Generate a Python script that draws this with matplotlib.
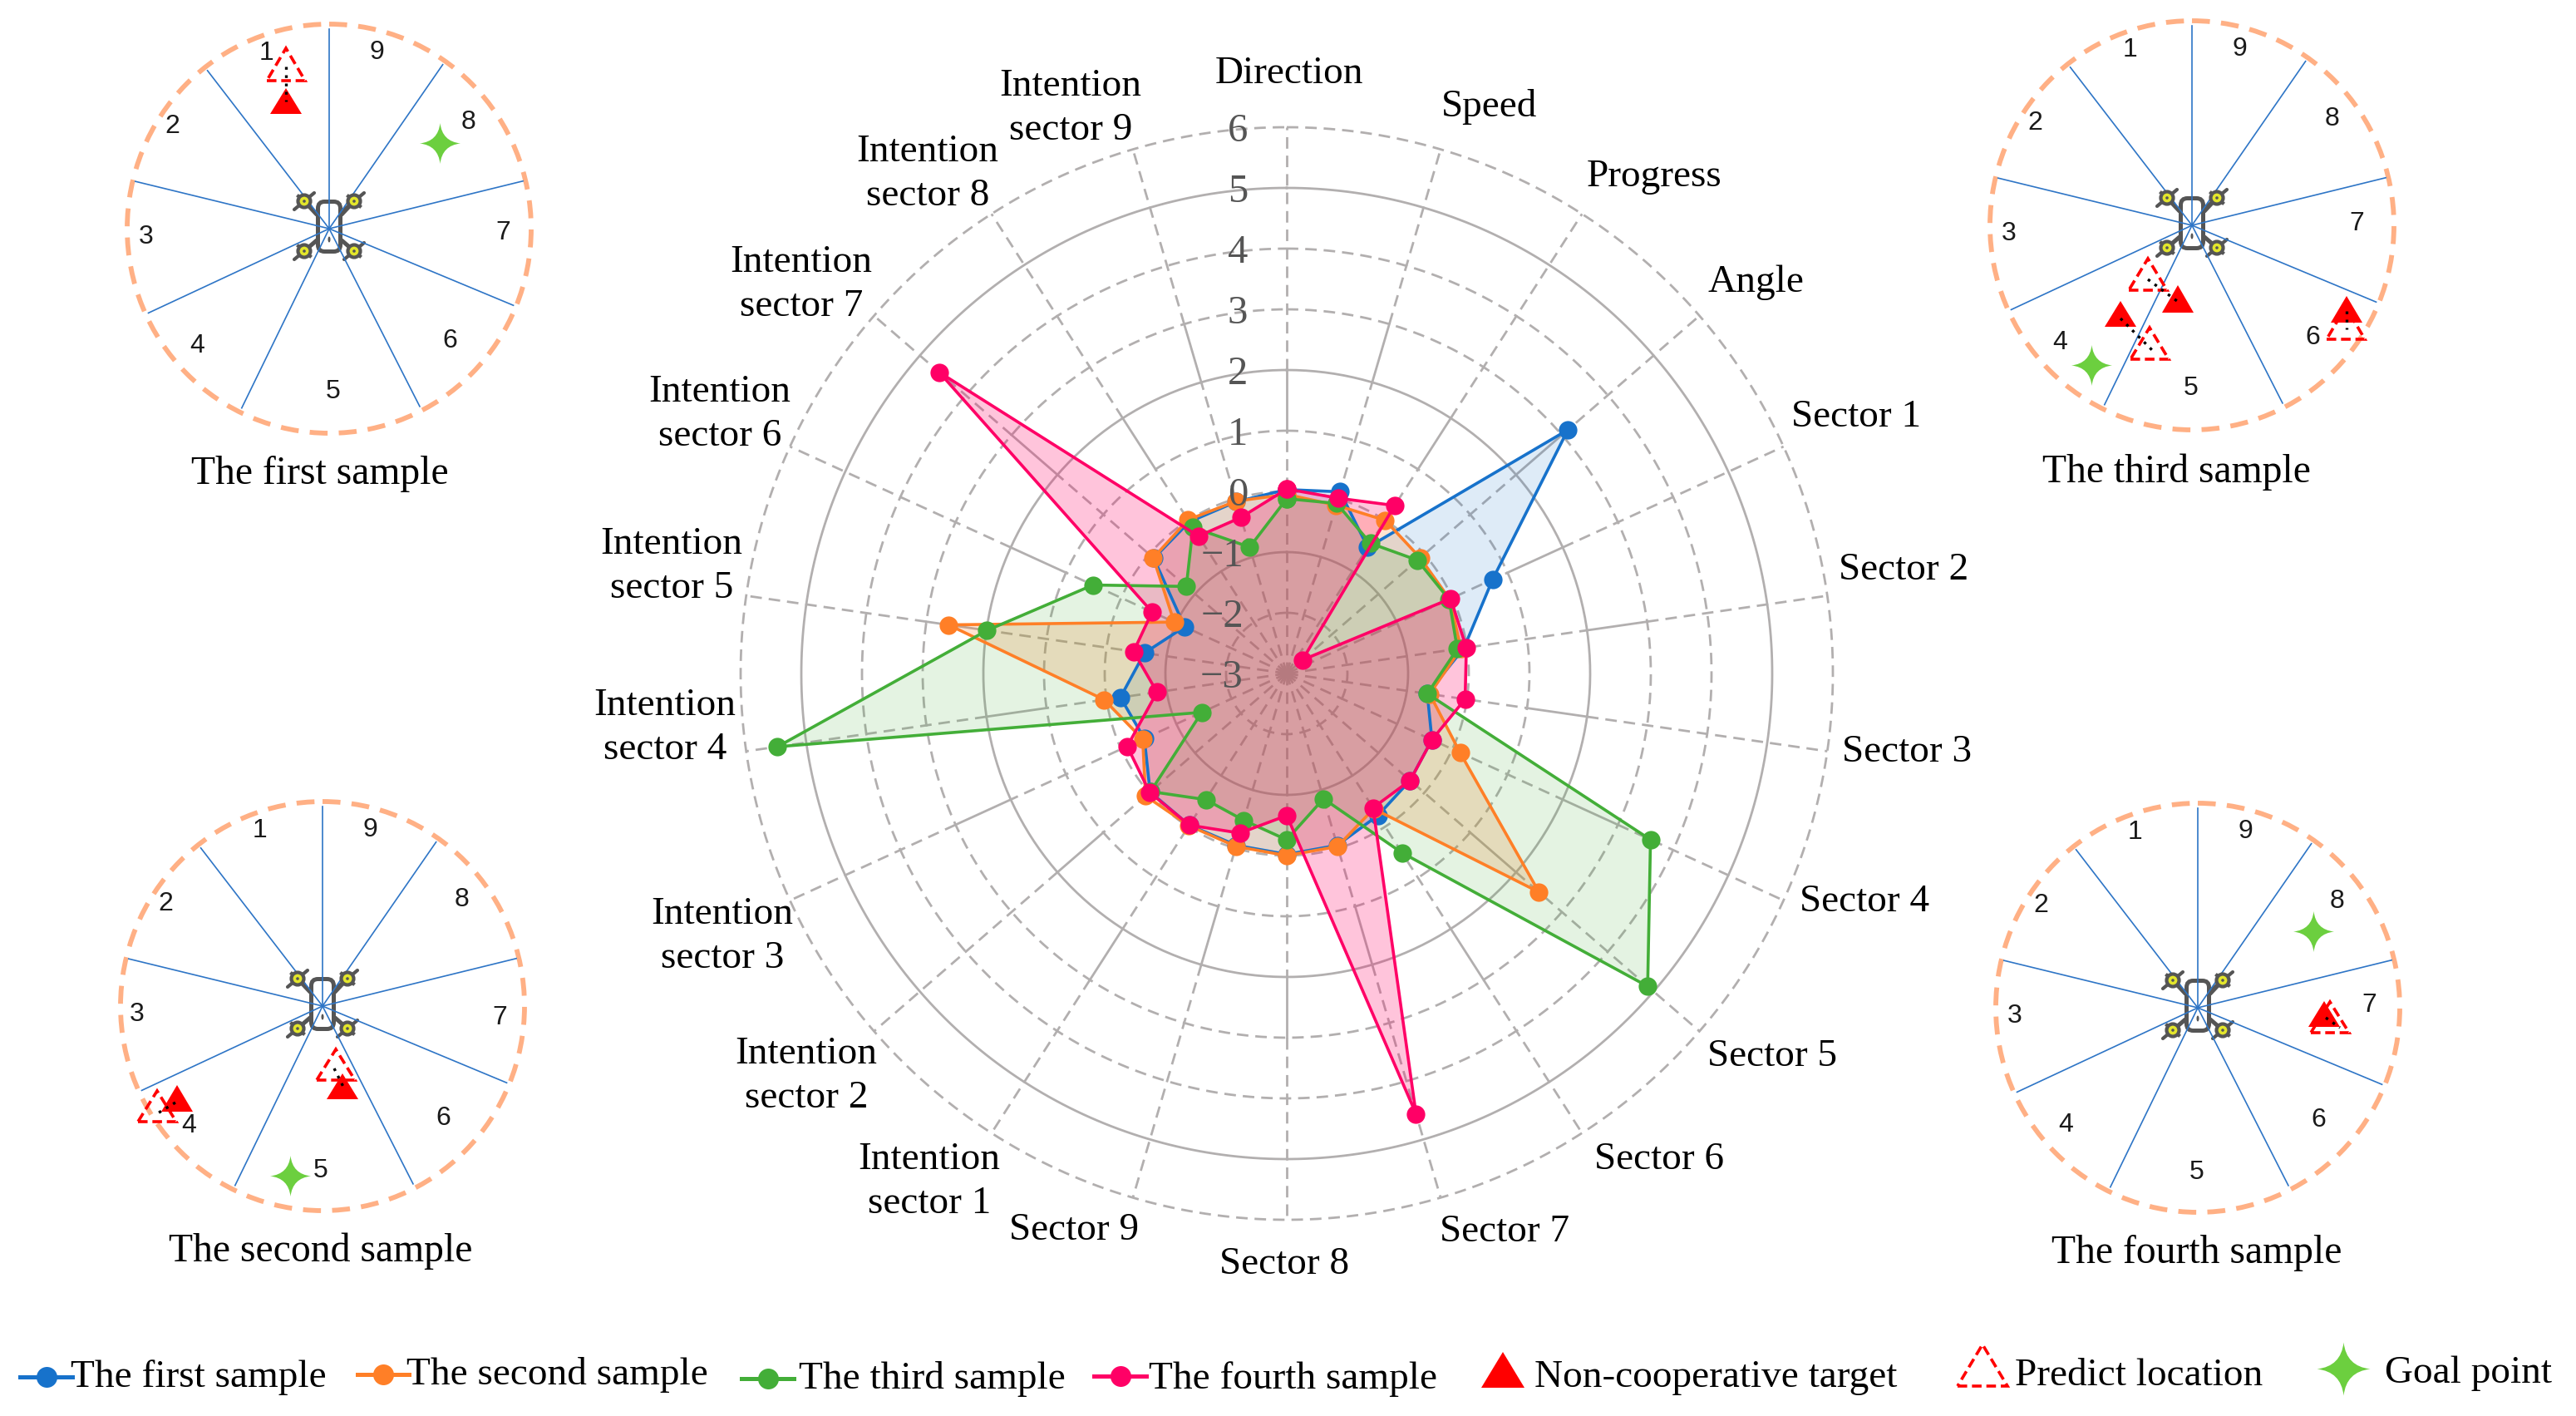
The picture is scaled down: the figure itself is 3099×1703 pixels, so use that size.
"""Radar chart of four samples with sector diagrams around it."""
import numpy as np
import matplotlib
matplotlib.use('Agg')
import matplotlib.pyplot as plt
from matplotlib.patches import Ellipse, FancyBboxPatch, Polygon, Circle
from matplotlib.path import Path

W, H = 3099, 1703
SERIF = 'Liberation Serif'
GRID = '#B2AFAF'

# --- radar data ---
AXES = ['Direction', 'Speed', 'Progress', 'Angle',
        'Sector 1', 'Sector 2', 'Sector 3', 'Sector 4', 'Sector 5',
        'Sector 6', 'Sector 7', 'Sector 8', 'Sector 9',
        'Intention sector 1', 'Intention sector 2', 'Intention sector 3',
        'Intention sector 4', 'Intention sector 5', 'Intention sector 6',
        'Intention sector 7', 'Intention sector 8', 'Intention sector 9']
first = [0.03, 0.12, -0.53, 3.13, 0.73, -0.05, -0.66, -0.37, -0.31, -0.22, -0.05,
         -0.02, -0.05, -0.03, -0.02, -0.42, -0.23, -0.63, -1.15, -0.10, -0.03, -0.05]
second = [-0.05, -0.11, 0.0, -0.09, -0.05, -0.10, -0.62, 0.14, 2.50, -0.35, -0.03,
          0.0, -0.03, -0.02, 0.08, -0.39, 0.04, 2.63, -0.96, -0.09, 0.01, -0.04]
third = [-0.12, -0.08, -0.45, -0.15, -0.06, -0.16, -0.66, 3.59, 4.87, 0.51, -0.85,
         -0.26, -0.48, -0.53, -0.03, -1.46, 5.48, 1.99, 0.51, -0.81, -0.14, -0.83]
fourth = [0.04, 0.01, 0.29, -2.66, -0.03, -0.01, -0.03, -0.37, -0.31, -0.37, 4.56,
          -0.66, -0.26, -0.03, -0.01, -0.11, -0.84, -0.45, -0.56, 4.58, -0.31, -0.32]
SERIES = [('The first sample', first, '#1772CB', 0.14),
          ('The second sample', second, '#FF7F27', 0.21),
          ('The third sample', third, '#43AE38', 0.14),
          ('The fourth sample', fourth, '#FF0066', 0.23)]
RINGS = [-2, -1, 0, 1, 2, 3, 4, 5, 6]
SOLID_RINGS = [-1, 2, 5]
TICKS = [-3, -2, -1, 0, 1, 2, 3, 4, 5, 6]

# axis label centres, in reference pixels
LABEL_X = [1551, 1792, 1990, 2112, 2233, 2290, 2294, 2243, 2132, 1996, 1810, 1545, 1292,
           1118, 970, 869, 800, 808, 866, 964, 1116, 1288]
LABEL_Y = [89, 128, 213, 340, 502, 686, 905, 1085, 1271, 1395, 1482, 1521, 1480,
           1421, 1294, 1126, 875, 681, 498, 342, 209, 130]

# --- sector diagrams ---
SPOKE_ANGLES = [0, 34.7, 76.2, 112.6, 153, 206, 245, 283.7, 322.4]
SECTOR_NUMBERS = ['1', '9', '8', '7', '6', '5', '4', '3', '2']
NUMBER_DX = [-75, 57, 168, 209, 145, 5, -159, -220, -189]
NUMBER_DY = [-214, -215, -131, 2, 132, 193, 138, 7, -126]

# each panel: centre, caption, targets, predictions and dotted links as
# (x, apex y, base y) / (x0, y0, x1, y1) in reference pixels
PANELS = [
    dict(center=(396, 275), caption='The first sample', caption_xy=(385, 570),
         targets=[(344, 106, 137)],
         predicts=[(344, 58, 97)],
         links=[(344, 80, 344, 122)],
         goal=(529, 172)),
    dict(center=(388, 1210), caption='The second sample', caption_xy=(386, 1505),
         targets=[(213, 1305, 1337), (412, 1291, 1322)],
         predicts=[(189, 1312, 1349), (404, 1262, 1299)],
         links=[(211, 1326, 188, 1340), (402, 1285, 414, 1309)],
         goal=(349, 1414),
         number_moves={'4': (-2, 3), '5': (-7, 2), '7': (4, 9), '3': (-3, 0)}),
    dict(center=(2637, 271), caption='The third sample', caption_xy=(2618, 568),
         targets=[(2620, 343, 376), (2551, 362, 393), (2823, 356, 388)],
         predicts=[(2584, 311, 349), (2586, 394, 432), (2822, 369, 408)],
         links=[(2584, 336, 2623, 365), (2551, 383, 2589, 421), (2823, 374, 2823, 396)],
         goal=(2516, 439),
         number_moves={'7': (-11, -7), '5': (-6, 0)}),
    dict(center=(2644, 1212), caption='The fourth sample', caption_xy=(2643, 1507),
         targets=[(2796, 1204, 1235)],
         predicts=[(2803, 1205, 1242)],
         links=[(2798, 1224, 2815, 1236)],
         goal=(2783, 1120),
         number_moves={'7': (-3, -8), '5': (-6, 2)}),
]

# --- legend ---
LEGEND_LINE_X = [(24, 87), (430, 492), (892, 955), (1316, 1379)]
LEGEND_LINE_Y = [1656, 1653, 1658, 1655]
LEGEND_TEXT_X = [85, 489, 961, 1382]
LEGEND_TEXT_Y = [1668, 1665, 1670, 1670]
LEGEND_SIZE = 34


def px(n):
    return n * 0.72


def spoke_segments(k):
    if k % 2 == 0:
        return [(2, 6, 'dash'), (1, 2, 'solid'), (-3, 1, 'dash')]
    return [(3, 6, 'dash'), (2, 3, 'solid'), (-3, 2, 'dash')]


def draw_radar(ax):
    theta = np.arange(len(AXES)) * 2 * np.pi / len(AXES)
    ax.set_theta_zero_location('N')
    ax.set_theta_direction(-1)
    ax.set_rlim(-3, 6)
    ax.set_xticks([])
    ax.set_yticks([])
    ax.grid(False)
    ax.spines['polar'].set_visible(False)
    ax.patch.set_visible(False)

    fine = np.linspace(0, 2 * np.pi, 400)
    for r in RINGS:
        kw = {'linestyle': '-'} if r in SOLID_RINGS else {'dashes': (5, 3)}
        ax.plot(fine, np.full_like(fine, r), color=GRID, lw=2, zorder=1, clip_on=False, **kw)
    for k, t in enumerate(theta):
        for r0, r1, style in spoke_segments(k):
            kw = {'linestyle': '-'} if style == 'solid' else {'dashes': (5, 3)}
            ax.plot([t, t], [r0, r1], color=GRID, lw=2, zorder=1, clip_on=False, **kw)

    closed = np.r_[theta, theta[0]]
    for name, vals, color, alpha in SERIES:
        v = np.r_[vals, vals[0]]
        ax.fill(closed, v, color=color, alpha=alpha, lw=0, zorder=2)
        ax.plot(closed, v, color=color, lw=2.6, marker='o', ms=16, mew=0, zorder=3,
                clip_on=False)

    for v in TICKS:
        label = str(v).replace('-', '\u2212')
        x_off = px(-59) if v >= 0 else px(-78)
        ax.annotate(label, xy=(0, v), xytext=(x_off, px(-5)), textcoords='offset points',
                    ha='center', va='center', fontsize=35, family=SERIF, color='#555555',
                    zorder=6, annotation_clip=False)


def star_path():
    tips = [(0, 1), (1, 0), (0, -1), (-1, 0)]
    ctrl = [(0.1, 0.1), (0.1, -0.1), (-0.1, -0.1), (-0.1, 0.1)]
    verts = [tips[0]]
    codes = [Path.MOVETO]
    for i in range(4):
        verts += [ctrl[i], tips[(i + 1) % 4]]
        codes += [Path.CURVE3, Path.CURVE3]
    return Path(verts, codes)


def draw_target(ax, x, apex, base, half=19):
    ax.add_patch(Polygon([(x - half, base), (x + half, base), (x, apex)],
                         facecolor='#FF0000', edgecolor='none', zorder=5))


def draw_predict(ax, x, apex, base, half=23):
    ax.add_patch(Polygon([(x - half, base), (x + half, base), (x, apex)],
                         facecolor='none', edgecolor='#FF0000', lw=2.6,
                         linestyle=(0, (3.2, 1.6)), zorder=5))


def draw_drone(ax, cx, cy):
    dark = '#555555'
    ax.add_patch(FancyBboxPatch((cx - 10, cy - 29), 20, 53,
                                boxstyle='round,pad=3.5,rounding_size=8',
                                facecolor='white', edgecolor=dark, lw=3.6, zorder=3))
    ax.add_patch(Ellipse((cx, cy + 13), 3, 7, facecolor=dark, edgecolor='none', zorder=4))
    for sx in (-1, 1):
        for ry, by in ((-33, -17), (27, 14)):
            rx = sx * 30
            ax.plot([cx + sx * 15, cx + rx], [cy + by, cy + ry], color=dark, lw=3.6,
                    solid_capstyle='round', zorder=3)
            # two short blades across the rotor
            ax.plot([cx + rx - 12, cx + rx + 12], [cy + ry + 10, cy + ry - 10], color=dark,
                    lw=3, solid_capstyle='round', zorder=4)
            ax.plot([cx + rx - 7, cx + rx + 7], [cy + ry - 6, cy + ry + 6], color=dark,
                    lw=3, zorder=4)
            ax.add_patch(Circle((cx + rx, cy + ry), 7.5, facecolor='#E3E62B', edgecolor=dark,
                                lw=3, zorder=5))
            ax.add_patch(Circle((cx + rx, cy + ry), 1.8, facecolor=dark, edgecolor='none',
                                zorder=6))


def draw_panel(ax, panel, star):
    cx, cy = panel['center']
    draw_drone(ax, cx, cy)
    ax.add_patch(Ellipse((cx, cy), 486, 492, facecolor='none', edgecolor='#FFB085', lw=4.2,
                         linestyle=(0, (3.7, 2.3)), zorder=2))
    for a in np.radians(SPOKE_ANGLES):
        ax.plot([cx, cx + 240 * np.sin(a)], [cy, cy - 240 * np.cos(a)], color='#2E75C6',
                lw=1.2, zorder=4)
    moves = panel.get('number_moves', {})
    for num, dx, dy in zip(SECTOR_NUMBERS, NUMBER_DX, NUMBER_DY):
        mx, my = moves.get(num, (0, 0))
        ax.text(cx + dx + mx, cy + dy + my + 3, num, ha='center', va='center', fontsize=23,
                family='Liberation Sans', color='#1A1A1A', zorder=6)
    for x, apex, base in panel['targets']:
        draw_target(ax, x, apex, base)
    for x, apex, base in panel['predicts']:
        draw_predict(ax, x, apex, base)
    for x0, y0, x1, y1 in panel['links']:
        ax.plot([x0, x1], [y0, y1], color='black', lw=2.4, linestyle=(0, (1, 2)), zorder=7)
    ax.scatter(*panel['goal'], s=px(49) ** 2, marker=star, color='#6CCF3F', lw=0, zorder=5)
    ax.text(*panel['caption_xy'], panel['caption'], ha='center', va='center', fontsize=34.3,
            family=SERIF, color='black')


def draw_legend(ax, star):
    for i, (name, _, color, _) in enumerate(SERIES):
        x0, x1 = LEGEND_LINE_X[i]
        y = LEGEND_LINE_Y[i]
        ax.plot([x0, x1], [y, y], color=color, lw=3.6, zorder=4)
        ax.plot([(x0 + x1) / 2], [y], marker='o', ms=18, mew=0, color=color, zorder=4)
        ax.text(LEGEND_TEXT_X[i], LEGEND_TEXT_Y[i], name, ha='left', va='baseline',
                fontsize=LEGEND_SIZE, family=SERIF, color='black', zorder=5)
    ax.add_patch(Polygon([(1782, 1669), (1834, 1669), (1808, 1626)], facecolor='#FF0000',
                         edgecolor='none'))
    ax.text(1846, 1668, 'Non-cooperative target', ha='left', va='baseline',
            fontsize=LEGEND_SIZE, family=SERIF, color='black')
    ax.add_patch(Polygon([(2355, 1667), (2415, 1667), (2385, 1617)], facecolor='none',
                         edgecolor='#FF0000', lw=2.6, linestyle=(0, (3.2, 1.6))))
    ax.text(2424, 1666, 'Predict location', ha='left', va='baseline', fontsize=LEGEND_SIZE,
            family=SERIF, color='black')
    ax.scatter([2819], [1646], s=px(64) ** 2, marker=star, color='#6CCF3F', lw=0)
    ax.text(2869, 1663, 'Goal point', ha='left', va='baseline', fontsize=LEGEND_SIZE,
            family=SERIF, color='black')


def main():
    fig = plt.figure(figsize=(W / 100, H / 100), dpi=100, facecolor='white')

    # radar centre (1548, 810), outer radius 657 px
    pol = fig.add_axes([(1548 - 657) / W, (H - 810 - 657) / H, 2 * 657 / W, 2 * 657 / H],
                       projection='polar')
    draw_radar(pol)

    over = fig.add_axes([0, 0, 1, 1], zorder=5)
    over.set_xlim(0, W)
    over.set_ylim(H, 0)
    over.axis('off')
    over.patch.set_visible(False)

    for label, x, y in zip(AXES, LABEL_X, LABEL_Y):
        text = label.replace('Intention ', 'Intention\n')
        over.text(x, y, text, ha='center', va='center', fontsize=34, family=SERIF,
                  color='black', linespacing=1.32)

    star = star_path()
    for panel in PANELS:
        draw_panel(over, panel, star)
    draw_legend(over, star)

    fig.savefig('out.png', dpi=100, facecolor='white')


if __name__ == '__main__':
    main()
